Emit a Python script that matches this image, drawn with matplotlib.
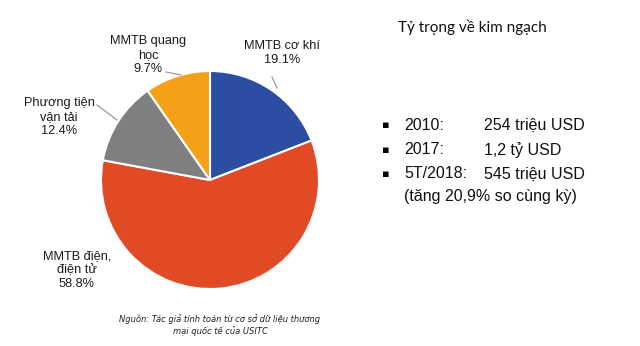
import matplotlib
matplotlib.use("Agg")
import matplotlib.pyplot as plt

# slice data, clockwise from 12 o'clock
labels = ["MMTB cơ khí\n19.1%", "MMTB điện,\nđiện tử\n58.8%",
          "Phương tiện\nvận tải\n12.4%", "MMTB quang\nhọc\n9.7%"]
shares = [19.1, 58.8, 12.4, 9.7]
colors = ["#2B4EA2", "#E04B26", "#7F7F7F", "#F6A01A"]

title = "Tỷ trọng về kim ngạch"
years = ["2010:", "2017:", "5T/2018:"]
values = ["254 triệu USD", "1,2 tỷ USD", "545 triệu USD"]
note = "(tăng 20,9% so cùng kỳ)"
source = "Nguồn: Tác giả tính toán từ cơ sở dữ liệu thương\nmại quốc tế của USITC"

W, H = 640, 346
fig = plt.figure(figsize=(6.4, 3.46), dpi=100)
ax = fig.add_axes([0, 0, 1, 1])

cx, cy, r = 210, 180, 109
ax.pie(shares, colors=colors, startangle=90, counterclock=False,
       center=(cx, H - cy), radius=r,
       wedgeprops=dict(edgecolor="white", linewidth=1.5))
ax.set_xlim(0, W)
ax.set_ylim(0, H)
ax.set_aspect("auto")
ax.axis("off")

def T(x, y, s, **kw):
    ax.text(x, H - y, s, **kw)

lab_pos = [(282, 53), (77, 270), (59, 117), (148, 55)]
for txt, (x, y) in zip(labels, lab_pos):
    T(x, y, txt, ha="center", va="center", fontsize=9.2,
      family="Liberation Sans", linespacing=1.2, color="#1a1a1a")

# leader lines
leader = [((272, 77), (277, 88)), ((97, 105), (117, 120)), ((166, 72), (181, 75))]
for (x0, y0), (x1, y1) in leader:
    ax.plot([x0, x1], [H - y0, H - y1], color="#9a9a9a", lw=0.9)

T(220, 325, source, ha="center", va="center", fontsize=6,
  style="italic", family="DejaVu Sans", color="#222222", linespacing=1.35)

T(398, 27, title, ha="left", va="center", fontsize=11,
  family="Lato", color="#111111")

ys = [125, 150, 174]
for yr, val, y in zip(years, values, ys):
    T(386, y, "▪", ha="center", va="center", fontsize=8, family="DejaVu Sans")
    T(404, y, yr, ha="left", va="center", fontsize=11.5,
      family="Liberation Sans", color="#111111")
    T(484, y, val, ha="left", va="center", fontsize=11.5,
      family="Liberation Sans", color="#111111")
T(404, 197, note, ha="left", va="center", fontsize=11.5,
  family="Liberation Sans", color="#111111")

fig.savefig("out.png", dpi=100)
